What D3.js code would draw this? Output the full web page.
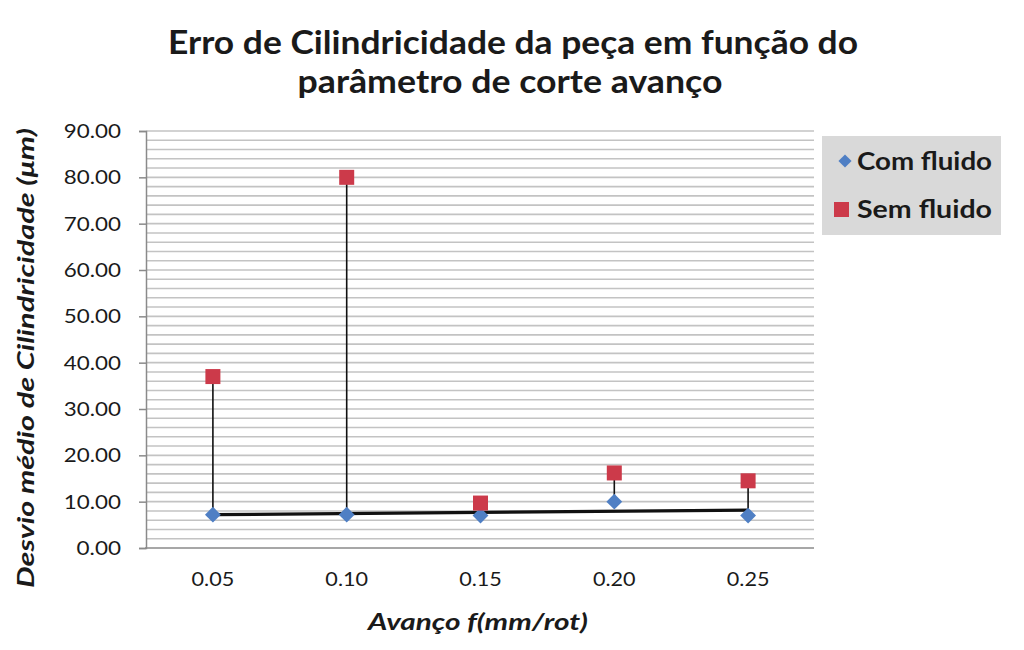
<!DOCTYPE html>
<html>
<head>
<meta charset="utf-8">
<script src="https://cdn.jsdelivr.net/npm/d3@7"></script>
<style>
  html, body { margin: 0; padding: 0; background: #fff; }
  svg { display: block; }
  text { font-family: Lato, "Open Sans", sans-serif; fill: #1a1a1a; }
</style>
</head>
<body>
<svg id="chart" width="1024" height="650"></svg>
<script>
const categories = ["0.05", "0.10", "0.15", "0.20", "0.25"];
const comFluido = [7.2, 7.2, 7.0, 10.0, 7.0];
const semFluido = [37.0, 80.0, 9.7, 16.2, 14.5];
const yTickValues = [0, 10, 20, 30, 40, 50, 60, 70, 80, 90];
const seriesNames = ["Com fluido", "Sem fluido"];
const titleLines = ["Erro de Cilindricidade da peça em função do", "parâmetro de corte avanço"];

const svg = d3.select("#chart");
const pLeft = 146, pRight = 814, pTop = 131, pBottom = 548;

const x = d3.scaleBand().domain(categories).range([pLeft, pRight + 1]);
const y = d3.scaleLinear().domain([0, 90]).range([pBottom, pTop]);
const cx = c => x(c) + x.bandwidth() / 2;

// minor gridlines every 2 units
const grid = svg.append("g");
d3.range(2, 91, 2).forEach(v => {
  grid.append("line")
    .attr("x1", pLeft).attr("x2", pRight)
    .attr("y1", y(v)).attr("y2", y(v))
    .attr("stroke", "#c3c3c3").attr("stroke-width", 1.6);
});

// width of a numeric label in a Calibri-like face
const labelWidth = (s, d) => s.split("").reduce((w, ch) => w + (ch === "." ? d / 2 : d), 0);

// y axis
const yAxis = d3.axisLeft(y).tickValues(yTickValues).tickSize(7).tickPadding(18)
  .tickFormat(d3.format(".2f"));
const gy = svg.append("g").attr("transform", `translate(${pLeft},0)`).call(yAxis);
gy.select(".domain").attr("stroke", "#8a8a8a").attr("stroke-width", 1.5);
gy.selectAll(".tick line").attr("stroke", "#8a8a8a").attr("stroke-width", 1.5);
gy.selectAll(".tick text").style("font-size", "20px").style("font-family", "Lato, sans-serif")
  .attr("fill", "#1a1a1a")
  .attr("textLength", function () { return labelWidth(this.textContent, 12.7); })
  .attr("lengthAdjust", "spacingAndGlyphs");

// x axis
const xAxis = d3.axisBottom(x).tickSize(0).tickPadding(24);
const gx = svg.append("g").attr("transform", `translate(0,${pBottom})`).call(xAxis);
gx.select(".domain").attr("stroke", "#8a8a8a").attr("stroke-width", 1.5)
  .attr("d", `M${pLeft - 1},0H${pRight}`);
gx.selectAll(".tick text").style("font-size", "20px").style("font-family", "Lato, sans-serif")
  .attr("fill", "#1a1a1a")
  .attr("textLength", function () { return labelWidth(this.textContent, 12.2); })
  .attr("lengthAdjust", "spacingAndGlyphs");

// high-low lines
const plot = svg.append("g");
categories.forEach((c, i) => {
  plot.append("line")
    .attr("x1", cx(c)).attr("x2", cx(c))
    .attr("y1", y(comFluido[i])).attr("y2", y(semFluido[i]))
    .attr("stroke", "#111").attr("stroke-width", 1.6);
});

// linear trendline of Com fluido
const idx = categories.map((c, i) => i + 1);
const mx = d3.mean(idx), my = d3.mean(comFluido);
const slope = d3.sum(idx, (v, i) => (v - mx) * (comFluido[i] - my)) / d3.sum(idx, v => (v - mx) ** 2);
const icpt = my - slope * mx;
plot.append("line")
  .attr("x1", cx(categories[0])).attr("x2", cx(categories[categories.length - 1]))
  .attr("y1", y(icpt + slope * 1)).attr("y2", y(icpt + slope * categories.length))
  .attr("stroke", "#111").attr("stroke-width", 3.2);

const blue = "#4F7FC4", red = "#CC3A4A";
const diamond = d3.symbol().type(d3.symbolDiamond2).size(160);
plot.selectAll(".com").data(comFluido).join("path")
  .attr("d", diamond)
  .attr("transform", (d, i) => `translate(${cx(categories[i])},${y(d)})`)
  .attr("fill", blue);
const sq = 15;
plot.selectAll(".sem").data(semFluido).join("rect")
  .attr("x", (d, i) => cx(categories[i]) - sq / 2)
  .attr("y", d => y(d) - sq / 2)
  .attr("width", sq).attr("height", sq)
  .attr("fill", red);

// title
svg.append("text").attr("x", 513).attr("y", 54).attr("text-anchor", "middle")
  .style("font-size", "32px").style("font-weight", "bold")
  .attr("textLength", 690).attr("lengthAdjust", "spacingAndGlyphs")
  .text(titleLines[0]);
svg.append("text").attr("x", 510).attr("y", 93).attr("text-anchor", "middle")
  .style("font-size", "32px").style("font-weight", "bold")
  .attr("textLength", 425).attr("lengthAdjust", "spacingAndGlyphs")
  .text(titleLines[1]);

// axis titles
svg.append("text").attr("transform", "translate(34,358) rotate(-90)")
  .attr("text-anchor", "middle")
  .style("font-size", "23px").style("font-weight", "bold").style("font-style", "italic")
  .attr("textLength", 460).attr("lengthAdjust", "spacingAndGlyphs")
  .text("Desvio médio de Cilindricidade (μm)");
svg.append("text").attr("x", 478).attr("y", 630).attr("text-anchor", "middle")
  .style("font-size", "23px").style("font-weight", "bold").style("font-style", "italic")
  .attr("textLength", 220).attr("lengthAdjust", "spacingAndGlyphs")
  .text("Avanço f(mm/rot)");

// legend
const lg = svg.append("g");
lg.append("rect").attr("x", 822).attr("y", 136).attr("width", 179).attr("height", 99).attr("fill", "#d9d9d9");
lg.append("path").attr("d", d3.symbol().type(d3.symbolDiamond2).size(110))
  .attr("transform", "translate(845,161)").attr("fill", blue);
lg.append("rect").attr("x", 834).attr("y", 202).attr("width", 15).attr("height", 15).attr("fill", red);
seriesNames.forEach((n, i) => {
  lg.append("text").attr("x", 857).attr("y", 170 + i * 48)
    .style("font-size", "24px").style("font-weight", "bold")
    .attr("textLength", 135).attr("lengthAdjust", "spacingAndGlyphs")
    .text(n);
});
</script>
</body>
</html>
